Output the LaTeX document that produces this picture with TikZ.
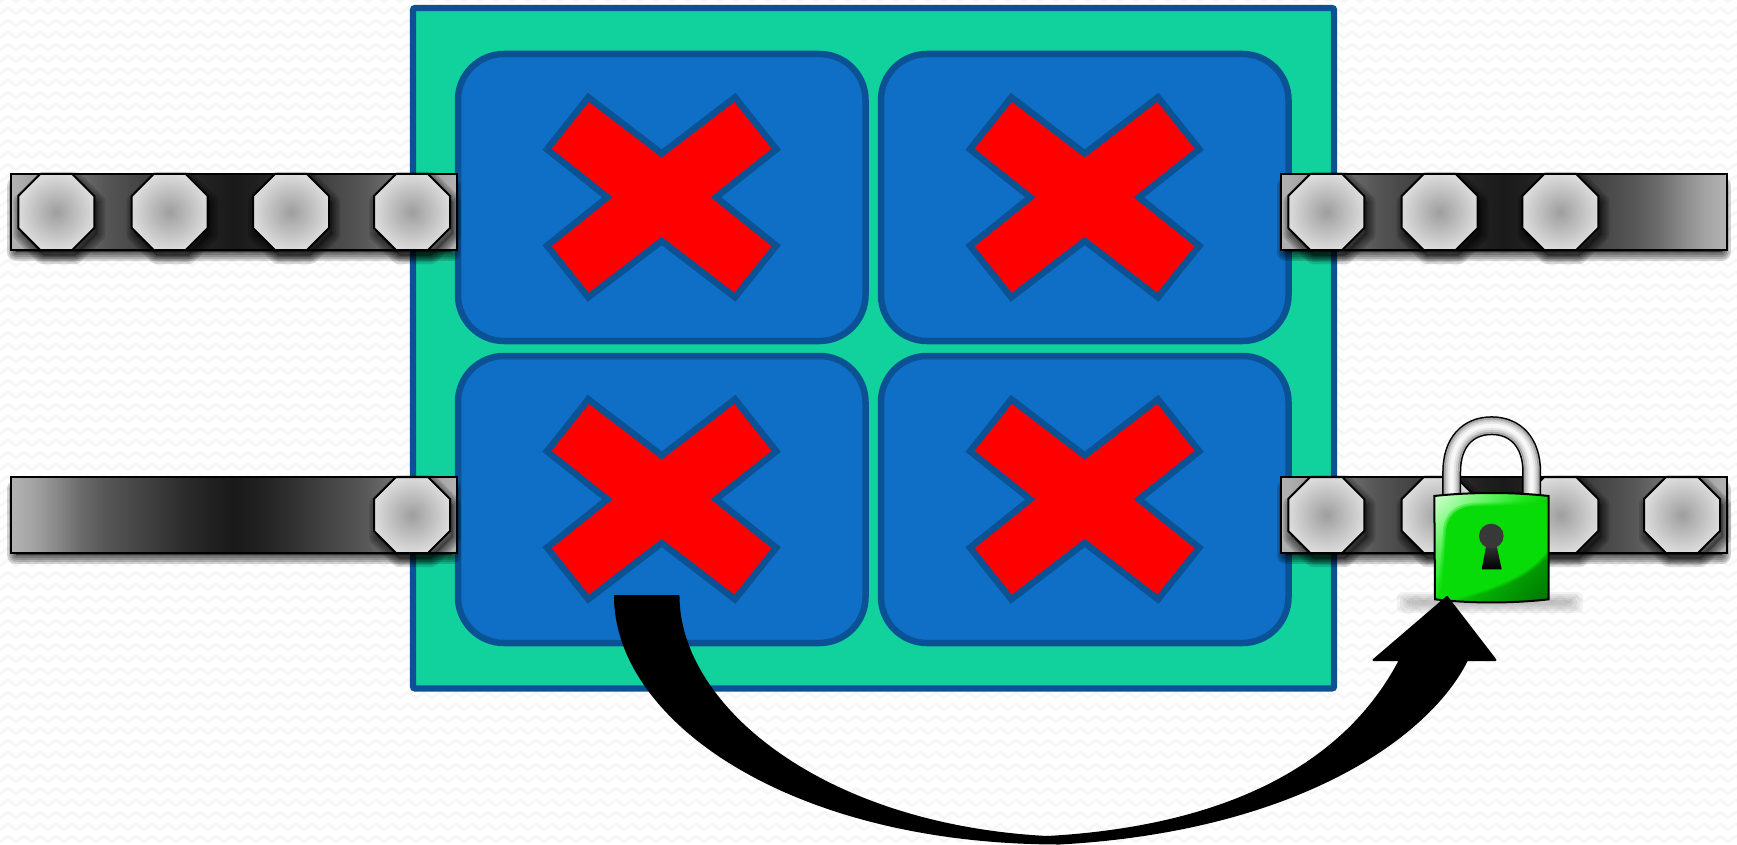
\documentclass[tikz,border=0pt]{standalone}
\usetikzlibrary{patterns}
\definecolor{teal1}{HTML}{11D19D}
\definecolor{blue1}{HTML}{0F6EC6}
\definecolor{edge1}{HTML}{0A5294}
\definecolor{wave1}{HTML}{F6F6F6}
\definecolor{lockmid}{HTML}{08DC08}
\pgfdeclarehorizontalshading{barshade}{100bp}{
  rgb(0bp)=(.70,.70,.70);
  rgb(25bp)=(.70,.70,.70);
  rgb(27.5bp)=(.64,.64,.64);
  rgb(29.5bp)=(.56,.56,.56);
  rgb(32.75bp)=(.42,.42,.42);
  rgb(35.5bp)=(.34,.34,.34);
  rgb(38.5bp)=(.285,.285,.285);
  rgb(44bp)=(.18,.18,.18);
  rgb(47.5bp)=(.125,.125,.125);
  rgb(50bp)=(.10,.10,.10);
  rgb(52.5bp)=(.125,.125,.125);
  rgb(56bp)=(.18,.18,.18);
  rgb(61.5bp)=(.285,.285,.285);
  rgb(64.5bp)=(.34,.34,.34);
  rgb(67.25bp)=(.42,.42,.42);
  rgb(70.5bp)=(.56,.56,.56);
  rgb(72.5bp)=(.64,.64,.64);
  rgb(75bp)=(.70,.70,.70);
  rgb(100bp)=(.70,.70,.70)}
\pgfdeclarehorizontalshading{lockshade}{100bp}{
  rgb(0bp)=(.85,1,.85);
  rgb(15bp)=(.85,1,.85);
  rgb(30bp)=(.45,.97,.45);
  rgb(45bp)=(.10,.90,.10);
  rgb(60bp)=(.02,.70,.02);
  rgb(85bp)=(0,.45,0);
  rgb(100bp)=(0,.45,0)}
\pgfdeclarepatternformonly{wavebg}{\pgfqpoint{-1pt}{-1pt}}{\pgfqpoint{17pt}{13pt}}{\pgfqpoint{16pt}{12pt}}{
  \pgfsetlinewidth{2.5pt}
  \pgfpathmoveto{\pgfqpoint{0pt}{3pt}}
  \pgfpathlineto{\pgfqpoint{8pt}{9pt}}
  \pgfpathlineto{\pgfqpoint{16pt}{3pt}}
  \pgfusepath{stroke}}
\tikzset{
  framebox/.style={draw=edge1,fill=teal1,line width=6.2pt,rounded corners=2pt},
  cellbox/.style={draw=edge1,fill=blue1,line width=6.5pt,rounded corners=46pt},
  crossmark/.style={draw=edge1,fill=red,line width=6.5pt,line join=miter},
  barline/.style={draw=black,line width=2.2pt},
  boltline/.style={draw=black,line width=2pt,line join=miter},
  softshadow/.style={draw=black,fill=black,line join=round,line width=#1,draw opacity=.17,fill opacity=.1},
  boltshade/.style={draw=black,fill=black,line join=round,line width=#1,draw opacity=.14,fill opacity=.08},
  blockarrow/.style={draw=black,fill=black,line width=2pt,line join=round}
}
\newcommand{\boltpath}[2]{(#1-16,#2-38) -- (#1+16,#2-38) -- (#1+38,#2-16) -- (#1+38,#2+16) -- (#1+16,#2+38) -- (#1-16,#2+38) -- (#1-38,#2+16) -- (#1-38,#2-16) -- cycle}
\newcommand{\boltshadow}[2]{\foreach \w in {16,12,8,4}{\path[boltshade=\w pt] \boltpath{#1+3}{#2+6};}}
\newcommand{\boltbody}[2]{\shade[inner color=black!38,outer color=black!14] \boltpath{#1}{#2};
  \path[boltline] \boltpath{#1}{#2};}
\newcommand{\barbase}[3]{\foreach \w in {18,14,10,6,2}{\path[softshadow=\w pt] (#1+5,#2+12) rectangle (#3-5,#2+78);}
  \shade[shading=barshade] (#1,#2) rectangle (#3,#2+76);}
\newcommand{\lockoutline}{(1434.3,496) .. controls (1470,492) and (1513,492) .. (1548.7,496) -- (1548.7,599.3)
  .. controls (1513,603.5) and (1470,603.5) .. (1435,599.3) -- cycle}
\begin{document}
\begin{tikzpicture}[x=1pt,y=-1pt]
\useasboundingbox (0,0) rectangle (1737,845);
% page background
\fill[white] (0,0) rectangle (1737,845);
\fill[pattern=wavebg,pattern color=wave1] (0,0) rectangle (1737,845);
% frame and cells
\path[framebox] (413,8) rectangle (1334,688.5);
\foreach \cx/\cy in {0/0,423/0,0/302,423/302}{
  \begin{scope}[shift={(\cx,\cy)}]
    \path[cellbox] (458,54) rectangle (865.5,341);
    \path[crossmark] (588.3,97.3) -- (661.7,153.5) -- (735,97.3) -- (776.3,149.3) -- (716,197.3)
      -- (776.3,245.7) -- (735,297.3) -- (661.7,241) -- (588.3,297.3) -- (547,245.7)
      -- (607.3,197.3) -- (547,149.3) -- cycle;
  \end{scope}
}
% bar top left
\barbase{11}{174}{457}
\foreach \b in {56.3,169.7,291,412}{\boltshadow{\b}{212}}
\path[barline] (11,174) rectangle (457,250);
\foreach \b in {56.3,169.7,291,412}{\boltbody{\b}{212}}
% bar bottom left
\barbase{11}{477}{457}
\boltshadow{412}{515}
\path[barline] (11,477) rectangle (457,553);
\boltbody{412}{515}
% bar top right
\barbase{1281}{174}{1727}
\foreach \b in {1326.3,1439.7,1560.3}{\boltshadow{\b}{212}}
\path[barline] (1281,174) rectangle (1727,250);
\foreach \b in {1326.3,1439.7,1560.3}{\boltbody{\b}{212}}
% bar bottom right
\barbase{1281}{477}{1727}
\foreach \b in {1326.3,1439.7,1560.3,1682}{\boltshadow{\b}{515}}
\path[barline] (1281,477) rectangle (1727,553);
\foreach \b in {1326.3,1439.7,1560.3,1682}{\boltbody{\b}{515}}
% lock shadow
\foreach \m in {0,1,2,3,4}{
  \fill[black,opacity=.05,rounded corners=6pt] (1397+3*\m,592+2*\m) rectangle (1583-3*\m,613-2*\m);
}
% shackle
\foreach \w/\c in {19/black,16/black!35,12/black!20,8/black!10,4/black!3}{
  \draw[line width=\w pt,color=\c] (1451.7,500) -- (1451.7,472) .. controls (1451.7,442) and (1468,425.7) .. (1491.7,425.7)
    .. controls (1515,425.7) and (1531.7,442) .. (1531.7,472) -- (1531.7,500);
}
% lock body
\shade[shading=lockshade,shading angle=-45] \lockoutline;
\begin{scope}
  \clip \lockoutline;
  \foreach \s/\o in {1.07/.3,1.035/.45,1/1}{
    \fill[lockmid,opacity=\o,scale around={\s:(1491,550)}] (1441,602) -- (1446,532) .. controls (1447,516) and (1457,507) .. (1474,506)
      -- (1555,504) -- (1555,540) .. controls (1535,575) and (1500,588) .. (1441,602) -- cycle;
  }
\end{scope}
\draw[black,line width=2pt] \lockoutline;
% keyhole
\shade[top color=black!78,bottom color=black]
  (1486.7,543) -- (1481.7,569.3) -- (1501.7,569.3) -- (1496,543) -- cycle;
\fill[black!78] (1491.3,536) circle[radius=12.3];
% arrow
\path[blockarrow]
  (615,596) -- (678.5,596)
  .. controls (678.5,705) and (820,825) .. (1047,837)
  .. controls (1210,828) and (1340,775) .. (1400,660)
  -- (1373.5,660) -- (1447,597) -- (1495.5,660) -- (1467,660)
  .. controls (1430,735) and (1300,830) .. (1060,843.5)
  .. controls (790,843.5) and (615,720) .. (615,596) -- cycle;
\end{tikzpicture}
\end{document}
